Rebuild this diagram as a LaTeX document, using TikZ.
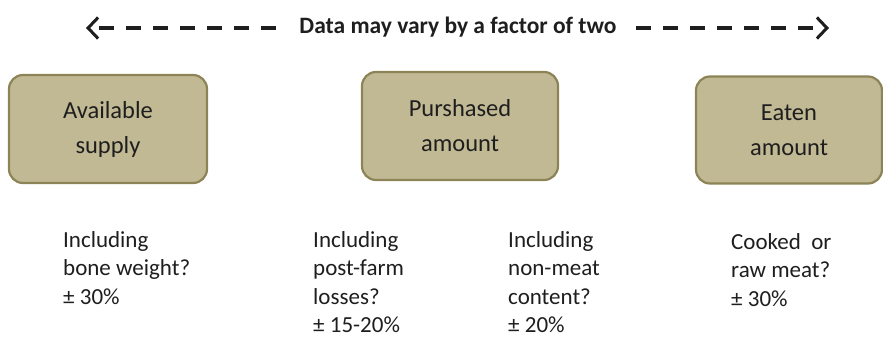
\documentclass[tikz,border=0pt]{standalone}
\usepackage{fontspec}
\setmainfont{Carlito}
\usetikzlibrary{arrows.meta}
\definecolor{boxfill}{RGB}{193,185,148}
\definecolor{boxline}{RGB}{140,132,86}
\definecolor{txt}{RGB}{30,30,30}
\begin{document}
\begin{tikzpicture}[x=1pt,y=-1pt,
  stagebox/.style={draw=boxline, line width=2.2pt, fill=boxfill, rounded corners=14pt,
    inner sep=0pt, text=txt, font=\fontsize{24.5}{35}\selectfont, align=center},
  note/.style={anchor=north west, inner sep=0pt, align=left, text=txt,
    font=\fontsize{23}{28.5}\selectfont},
  dasharrow/.style={line width=3.4pt, dash pattern=on 15pt off 12pt, txt,
    -{Straight Barb[length=10pt,width=21pt,line width=3pt]}}]
\useasboundingbox (0,0) rectangle (883,339);
\node[font=\bfseries\fontsize{23.5}{26}\selectfont, text=txt, inner sep=0pt] (title) at (458,27) {Data may vary by a factor of two};
\coordinate (lt) at (86,28);
\coordinate (rt) at (829,28);
\coordinate (ls) at (276,28);
\coordinate (rs) at (636,28);
\draw[dasharrow] (ls) -- (lt);
\draw[dasharrow] (rs) -- (rt);
\node[stagebox, minimum width=198pt, minimum height=108pt] (s1) at (108,129) {Available\\supply};
\node[stagebox, minimum width=196pt, minimum height=108pt] (s2) at (460,126) {Purshased\\amount};
\node[stagebox, minimum width=186pt, minimum height=107pt] (s3) at (789,130) {Eaten\\amount};
\node[note] (n1) at (63,231) {Including\\bone weight?\\± 30\%};
\node[note] (n2) at (313,231) {Including\\post-farm\\losses?\\± 15-20\%};
\node[note] (n3) at (508,231) {Including\\non-meat\\content?\\± 20\%};
\node[note] (n4) at (731,233) {Cooked~~or\\raw meat?\\± 30\%};
\end{tikzpicture}
\end{document}
